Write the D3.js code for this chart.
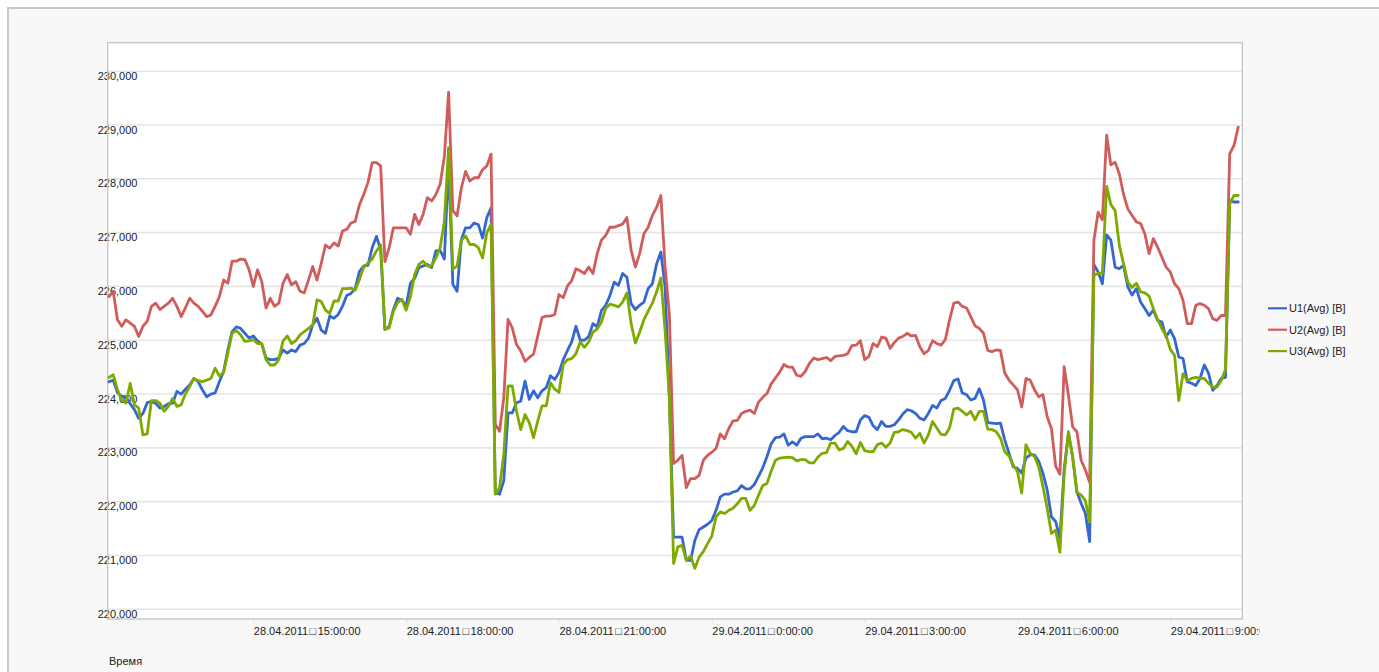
<!DOCTYPE html>
<html>
<head>
<meta charset="utf-8">
<script src="https://cdn.jsdelivr.net/npm/d3@7"></script>
<style>
  html, body { margin: 0; padding: 0; background: #ffffff; overflow: hidden; }
  svg { display: block; font-family: "Liberation Sans", Arial, sans-serif; }
</style>
</head>
<body>
<svg id="chart" width="1379" height="672"></svg>
<script>
// Phase voltages, 5-minute averages, 28.04.2011 12:10 – 29.04.2011 10:20
const seriesNames = ["U1(Avg) [B]", "U2(Avg) [B]", "U3(Avg) [B]"];
const seriesColors = ["#3468d0", "#d05c5c", "#7eaa00"];
const startTime = new Date(2011, 3, 28, 12, 10, 0);
const stepMinutes = 5;

const u1 = [
  224.22, 224.25, 224.02, 223.94, 223.94, 223.81, 223.70, 223.54, 223.63, 223.83,
  223.85, 223.82, 223.73, 223.76, 223.81, 223.82, 224.04, 223.99, 224.08, 224.16,
  224.28, 224.22, 224.07, 223.94, 223.99, 224.01, 224.22, 224.41, 224.81, 225.15,
  225.24, 225.21, 225.12, 225.03, 225.07, 224.98, 224.92, 224.66, 224.63, 224.63,
  224.66, 224.81, 224.75, 224.81, 224.78, 224.90, 224.93, 225.03, 225.28, 225.40,
  225.18, 225.12, 225.44, 225.40, 225.47, 225.62, 225.82, 225.86, 225.95, 226.27,
  226.37, 226.38, 226.71, 226.92, 226.68, 225.19, 225.25, 225.56, 225.77, 225.73,
  225.63, 226.05, 226.14, 226.34, 226.37, 226.40, 226.34, 226.65, 226.66, 226.50,
  228.30, 226.03, 225.90, 226.86, 227.08, 227.08, 227.17, 227.14, 226.89, 227.27,
  227.45, 222.16, 222.13, 222.38, 223.64, 223.64, 223.83, 223.86, 224.23, 223.89,
  224.05, 223.92, 224.05, 224.11, 224.33, 224.26, 224.39, 224.63, 224.80, 224.96,
  225.25, 224.99, 224.99, 225.06, 225.30, 225.24, 225.54, 225.64, 225.82, 226.07,
  226.01, 226.23, 226.16, 225.67, 225.56, 225.64, 225.70, 225.95, 226.04, 226.41,
  226.63, 225.98, 223.93, 221.33, 221.33, 221.33, 220.90, 220.90, 221.27, 221.47,
  221.52, 221.57, 221.64, 221.83, 222.08, 222.13, 222.13, 222.17, 222.19, 222.29,
  222.23, 222.23, 222.31, 222.46, 222.62, 222.83, 223.07, 223.18, 223.19, 223.25,
  223.04, 223.10, 223.04, 223.17, 223.20, 223.20, 223.20, 223.25, 223.16, 223.17,
  223.14, 223.22, 223.28, 223.39, 223.31, 223.29, 223.29, 223.51, 223.59, 223.56,
  223.40, 223.33, 223.48, 223.39, 223.39, 223.42, 223.51, 223.62, 223.70, 223.68,
  223.63, 223.54, 223.51, 223.63, 223.78, 223.73, 223.87, 223.91, 224.06, 224.24,
  224.27, 224.01, 223.98, 223.88, 223.91, 224.09, 223.88, 223.46, 223.45, 223.44,
  223.45, 223.14, 222.89, 222.64, 222.61, 222.52, 222.80, 222.86, 222.86, 222.74,
  222.52, 222.21, 221.71, 221.62, 221.31, 222.60, 223.26, 222.82, 222.17, 221.96,
  221.77, 221.25, 226.40, 226.26, 226.04, 226.95, 226.85, 226.35, 226.32, 226.38,
  225.98, 225.83, 225.95, 225.70, 225.58, 225.45, 225.55, 225.36, 225.33, 225.05,
  225.18, 225.02, 224.68, 224.65, 224.22, 224.19, 224.15, 224.28, 224.53, 224.38,
  224.06, 224.15, 224.28, 224.30, 227.59, 227.56, 227.56
];

const u2 = [
  225.80, 225.90, 225.37, 225.25, 225.37, 225.31, 225.25, 225.06, 225.25, 225.34,
  225.62, 225.68, 225.56, 225.62, 225.68, 225.77, 225.62, 225.43, 225.59, 225.77,
  225.68, 225.62, 225.53, 225.43, 225.46, 225.62, 225.80, 226.11, 226.05, 226.46,
  226.46, 226.50, 226.49, 226.30, 225.99, 226.30, 226.08, 225.59, 225.77, 225.62,
  225.68, 226.05, 226.21, 226.02, 226.08, 225.90, 225.87, 226.11, 226.36, 226.11,
  226.42, 226.76, 226.70, 226.80, 226.74, 227.02, 227.05, 227.17, 227.20, 227.51,
  227.70, 227.92, 228.29, 228.29, 228.23, 226.45, 226.71, 227.08, 227.08, 227.08,
  227.08, 226.96, 227.33, 227.14, 227.33, 227.64, 227.58, 227.70, 227.89, 228.40,
  229.60, 227.40, 227.30, 227.82, 228.13, 227.95, 228.01, 228.01, 228.16, 228.23,
  228.45, 223.43, 223.30, 223.92, 225.38, 225.22, 224.91, 224.79, 224.60, 224.67,
  224.73, 225.07, 225.41, 225.44, 225.44, 225.47, 225.84, 225.78, 226.00, 226.10,
  226.32, 226.28, 226.23, 226.35, 226.23, 226.60, 226.85, 226.94, 227.09, 227.09,
  227.12, 227.15, 227.27, 226.66, 226.35, 226.60, 226.97, 227.09, 227.31, 227.46,
  227.68, 226.35, 225.48, 222.70, 222.76, 222.85, 222.25, 222.42, 222.42, 222.48,
  222.76, 222.85, 222.91, 222.98, 223.25, 223.16, 223.35, 223.49, 223.50, 223.63,
  223.67, 223.69, 223.63, 223.84, 223.93, 224.00, 224.18, 224.29, 224.40, 224.54,
  224.49, 224.49, 224.34, 224.32, 224.41, 224.56, 224.66, 224.63, 224.65, 224.67,
  224.61, 224.69, 224.70, 224.71, 224.74, 224.89, 224.90, 224.98, 224.63, 224.69,
  224.93, 224.87, 225.05, 225.03, 224.84, 224.95, 225.03, 225.06, 225.12, 225.07,
  225.08, 224.87, 224.74, 224.80, 224.98, 224.93, 224.90, 225.00, 225.37, 225.68,
  225.70, 225.62, 225.59, 225.43, 225.26, 225.21, 225.12, 224.80, 224.78, 224.81,
  224.80, 224.38, 224.25, 224.16, 224.07, 223.75, 224.28, 224.25, 224.07, 223.94,
  223.98, 223.57, 223.35, 222.65, 222.50, 224.50, 223.97, 223.38, 223.29, 222.76,
  222.58, 222.35, 226.85, 227.37, 227.23, 228.80, 228.25, 228.30, 228.08, 227.70,
  227.43, 227.31, 227.19, 227.16, 226.97, 226.60, 226.88, 226.72, 226.54, 226.35,
  226.26, 226.04, 225.95, 225.73, 225.30, 225.30, 225.64, 225.67, 225.64, 225.58,
  225.39, 225.36, 225.45, 225.45, 228.46, 228.61, 228.95
];

const u3 = [
  224.30, 224.35, 224.07, 223.88, 223.82, 224.19, 223.79, 223.73, 223.23, 223.25,
  223.87, 223.87, 223.82, 223.67, 223.76, 223.91, 223.76, 223.79, 223.99, 224.13,
  224.28, 224.24, 224.22, 224.25, 224.28, 224.47, 224.33, 224.39, 224.75, 225.12,
  225.17, 225.09, 224.97, 224.98, 225.00, 224.93, 224.93, 224.63, 224.53, 224.53,
  224.63, 224.98, 225.07, 224.93, 224.98, 225.09, 225.15, 225.21, 225.28, 225.74,
  225.71, 225.55, 225.49, 225.72, 225.72, 225.95, 225.95, 225.96, 225.92, 226.12,
  226.35, 226.42, 226.50, 226.65, 226.76, 225.19, 225.22, 225.53, 225.69, 225.75,
  225.55, 225.80, 226.21, 226.40, 226.46, 226.37, 226.37, 226.52, 226.71, 227.20,
  228.57, 226.31, 226.37, 226.85, 226.93, 226.77, 226.77, 226.71, 226.52, 226.99,
  227.14, 222.13, 222.25, 222.87, 224.14, 224.14, 223.67, 223.33, 223.61, 223.46,
  223.18, 223.49, 223.77, 223.77, 224.20, 224.08, 224.02, 224.54, 224.63, 224.65,
  224.74, 224.96, 224.86, 224.96, 225.14, 225.20, 225.33, 225.58, 225.66, 225.64,
  225.61, 225.70, 225.87, 225.30, 224.94, 225.14, 225.37, 225.53, 225.68, 225.89,
  226.15, 225.17, 223.93, 220.84, 221.15, 221.18, 220.90, 220.98, 220.75, 220.96,
  221.06, 221.21, 221.35, 221.71, 221.80, 221.77, 221.83, 221.87, 221.95, 222.05,
  222.05, 221.83, 221.92, 222.11, 222.29, 222.33, 222.56, 222.76, 222.80, 222.81,
  222.82, 222.81, 222.75, 222.77, 222.77, 222.71, 222.71, 222.82, 222.89, 222.90,
  223.08, 223.08, 222.95, 222.98, 223.11, 223.02, 222.88, 223.09, 222.94, 222.92,
  222.92, 223.05, 223.08, 223.00, 223.08, 223.28, 223.29, 223.33, 223.31, 223.28,
  223.17, 223.26, 223.08, 223.23, 223.48, 223.36, 223.24, 223.23, 223.36, 223.71,
  223.73, 223.67, 223.60, 223.67, 223.51, 223.67, 223.67, 223.34, 223.33, 223.29,
  223.17, 222.92, 222.84, 222.67, 222.55, 222.15, 223.05, 222.89, 222.83, 222.64,
  222.27, 221.87, 221.40, 221.46, 221.05, 222.50, 223.29, 222.82, 222.17, 222.11,
  222.01, 221.62, 226.20, 226.23, 226.24, 227.85, 227.51, 227.40, 226.75, 226.41,
  226.07, 225.97, 226.05, 225.89, 225.87, 225.81, 225.58, 225.38, 225.21, 225.08,
  224.82, 224.71, 223.87, 224.37, 224.24, 224.28, 224.30, 224.28, 224.28, 224.19,
  224.12, 224.12, 224.24, 224.45, 227.53, 227.68, 227.68
];

const yTicks = [220, 221, 222, 223, 224, 225, 226, 227, 228, 229, 230];
const xTicks = [
  new Date(2011, 3, 28, 15, 0, 0),
  new Date(2011, 3, 28, 18, 0, 0),
  new Date(2011, 3, 28, 21, 0, 0),
  new Date(2011, 3, 29, 0, 0, 0),
  new Date(2011, 3, 29, 3, 0, 0),
  new Date(2011, 3, 29, 6, 0, 0),
  new Date(2011, 3, 29, 9, 0, 0)
];
const xTitle = "Время";

// ---------------------------------------------------------------------------
const svg = d3.select("#chart");
const plot = { left: 107.7, right: 1242.3, top: 42.7, bottom: 619 };

const x = d3.scaleTime()
  .domain([new Date(2011, 3, 28, 12, 8, 30), new Date(2011, 3, 29, 10, 24, 48)])
  .range([plot.left, plot.right]);
const y = d3.scaleLinear()
  .domain([219.81, 230.52])
  .range([plot.bottom, plot.top]);

const ruLocale = d3.formatLocale({ decimal: ",", thousands: "\u00a0", grouping: [3], currency: ["", ""] });
const fmtY = ruLocale.format(".3f");
const fmtDate = d3.timeFormat("%d.%m.%Y");
const fmtTime = d3.timeFormat("%-H:%M:%S");

const times = u1.map((_, i) => new Date(startTime.getTime() + i * stepMinutes * 60000));

// outer panel
svg.append("rect")
  .attr("x", 8).attr("y", 8).attr("width", 1400).attr("height", 700)
  .attr("fill", "#f8f8f8").attr("stroke", "#c8c8c8").attr("stroke-width", 2);

// plot background
svg.append("rect")
  .attr("x", plot.left).attr("y", plot.top)
  .attr("width", plot.right - plot.left).attr("height", plot.bottom - plot.top)
  .attr("fill", "#ffffff");

// horizontal grid + y labels
const yAxis = svg.append("g")
  .attr("transform", `translate(${plot.left},0)`)
  .call(d3.axisLeft(y).tickValues(yTicks).tickFormat(fmtY)
    .tickSize(-(plot.right - plot.left)).tickPadding(0));
yAxis.select(".domain").remove();
yAxis.selectAll(".tick line").attr("stroke", "#e6e6e6").attr("stroke-width", 1.6);
yAxis.selectAll(".tick text")
  .attr("x", -10).attr("y", 8.6).attr("dy", null)
  .attr("text-anchor", "start")
  .attr("fill", "#222").style("font-size", "11px");

// vertical grid + x labels (date, separator box, time)
svg.append("defs").append("clipPath").attr("id", "xlabel-clip")
  .append("rect").attr("x", 0).attr("y", 0).attr("width", 1260).attr("height", 672);

const xAxis = svg.append("g")
  .attr("transform", `translate(0,${plot.bottom})`)
  .attr("clip-path", "url(#xlabel-clip)")
  .call(d3.axisBottom(x).tickValues(xTicks).tickFormat(() => "")
    .tickSize(-(plot.bottom - plot.top)));
xAxis.select(".domain").remove();
xAxis.selectAll(".tick line").attr("y1", 4).attr("stroke", "#e6e6e6").attr("stroke-width", 1.6);
const xText = xAxis.selectAll(".tick text")
  .attr("x", 0).attr("y", 15.5).attr("dy", null)
  .attr("text-anchor", "start")
  .attr("fill", "#222").style("font-size", "11px");
xText.append("tspan").text(d => fmtDate(d));
xText.append("tspan").attr("dx", 1.5).text("\u25a1");
xText.append("tspan").attr("dx", 1.5).text(d => fmtTime(d));

// plot frame
svg.append("rect")
  .attr("x", plot.left).attr("y", plot.top)
  .attr("width", plot.right - plot.left).attr("height", plot.bottom - plot.top)
  .attr("fill", "none").attr("stroke", "#c4c4c4").attr("stroke-width", 1.3);

// axis title
svg.append("text")
  .attr("x", 109).attr("y", 664.5)
  .attr("fill", "#222").style("font-size", "11px")
  .text(xTitle);

// series
const line = d3.line()
  .x((d, i) => x(times[i]))
  .y(d => y(d));

[u1, u2, u3].forEach((vals, k) => {
  svg.append("path")
    .datum(vals)
    .attr("fill", "none")
    .attr("stroke", seriesColors[k])
    .attr("stroke-width", 2.8)
    .attr("stroke-linejoin", "round")
    .attr("stroke-linecap", "round")
    .attr("d", line);
});

// legend
const legend = svg.append("g").attr("transform", "translate(1268,308.3)");
const rows = legend.selectAll("g").data(seriesNames).join("g")
  .attr("transform", (d, i) => `translate(0,${i * 21.4})`);
rows.append("line")
  .attr("x1", 0).attr("x2", 19).attr("y1", 0).attr("y2", 0)
  .attr("stroke", (d, i) => seriesColors[i]).attr("stroke-width", 2.2);
rows.append("text")
  .attr("x", 21).attr("y", 4)
  .attr("fill", "#222").style("font-size", "11px")
  .text(d => d);
</script>
</body>
</html>
